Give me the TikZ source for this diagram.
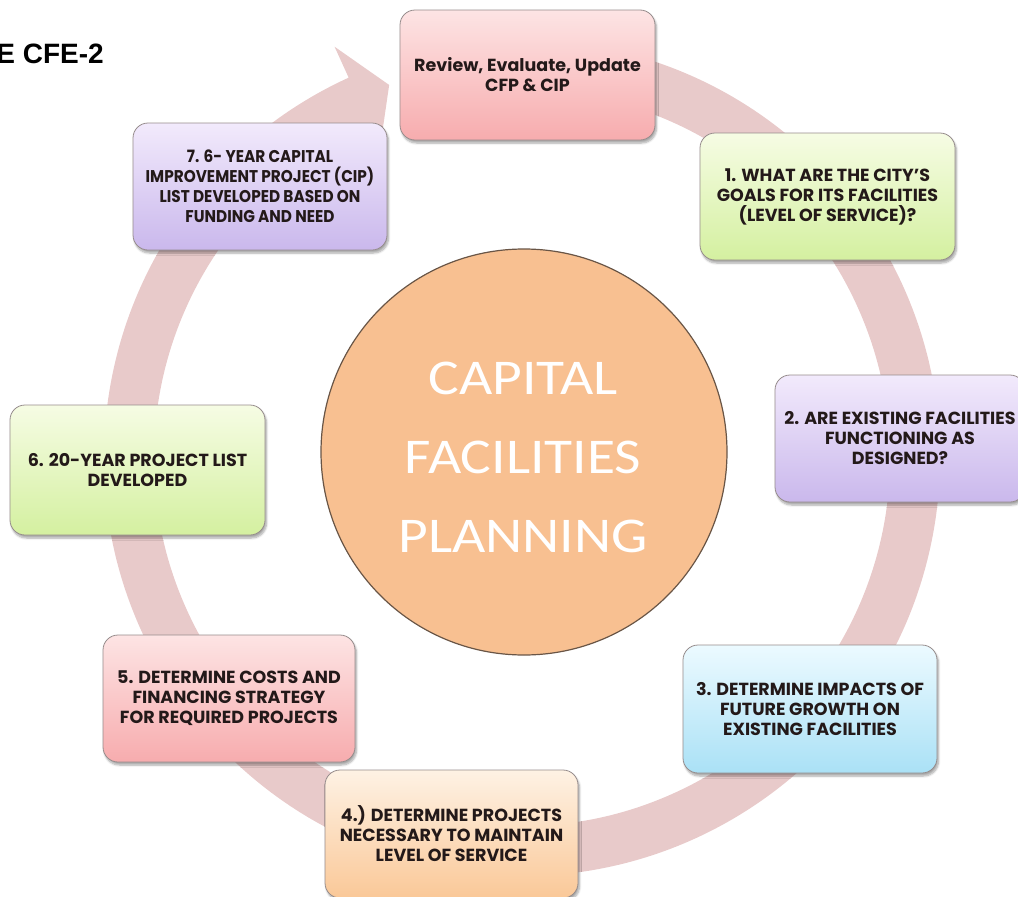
\documentclass[tikz,border=0pt]{standalone}
\usepackage{fontspec}
\setmainfont{Liberation Sans}
\newfontfamily\boxfont{Poppins}
\newfontfamily\boxfontnarrow{Poppins}[FakeStretch=0.9]
\newfontfamily\hubfont{Carlito}[FakeStretch=1.15]
\usetikzlibrary{shadows.blur}

\definecolor{ringpink}{RGB}{232,202,202}
\definecolor{boxedge}{RGB}{150,140,140}
\definecolor{txtdark}{RGB}{35,25,25}
\definecolor{hubfill}{RGB}{248,192,145}
\definecolor{hubedge}{RGB}{105,85,70}
\definecolor{pinkT}{RGB}{253,228,228}\definecolor{pinkB}{RGB}{247,172,174}
\definecolor{lavT}{RGB}{242,234,252}\definecolor{lavB}{RGB}{202,184,236}
\definecolor{grnT}{RGB}{246,252,228}\definecolor{grnB}{RGB}{212,240,160}
\definecolor{bluT}{RGB}{236,250,255}\definecolor{bluB}{RGB}{170,225,246}
\definecolor{pchT}{RGB}{254,242,228}\definecolor{pchB}{RGB}{250,200,152}

\begin{document}
\begin{tikzpicture}[x=1pt,y=-1pt,
  stepbox/.style={rounded corners=15pt, minimum width=254pt, minimum height=128pt,
    draw=boxedge, line width=0.8pt, align=center, text=txtdark,
    font=\boxfont\bfseries\fontsize{17.5}{20}\selectfont, shading=axis,
    blur shadow={shadow xshift=1.5pt, shadow yshift=-3pt, shadow blur steps=6, shadow opacity=35}},
  pinkbox/.style={stepbox, top color=pinkT, bottom color=pinkB},
  lavbox/.style={stepbox, top color=lavT, bottom color=lavB},
  grnbox/.style={stepbox, top color=grnT, bottom color=grnB},
  blubox/.style={stepbox, top color=bluT, bottom color=bluB},
  pchbox/.style={stepbox, top color=pchT, bottom color=pchB}]
\useasboundingbox (0,0) rectangle (1018,897);
\clip (0,0) rectangle (1018,897);

% figure label, cut at the left margin
\node[anchor=base east, inner sep=0pt, font=\bfseries\fontsize{28}{28}\selectfont] (title) at (104,63) {E CFE-2};

% circular arrow running clockwise behind the steps
\begin{scope}[shift={(522,458)}, y=1pt]
  \fill[ringpink] (78:418pt) arc[start angle=78, end angle=-245.5, radius=418pt]
    -- (114.5:452pt) -- (109.6:396pt) -- (114.5:342pt) -- (114.5:368pt)
    arc[start angle=114.5, end angle=438, radius=368pt] -- cycle;
\end{scope}

% hub
\node[circle, minimum size=406pt, inner sep=0pt, fill=hubfill, draw=hubedge, line width=1.2pt] (hub) at (524,452) {};
\node[text=white, align=center, font=\hubfont\fontsize{50}{79}\selectfont] (hubtext) at (523,457)
  {CAPITAL\\FACILITIES\\PLANNING};

% steps of the cycle
\node[pinkbox, minimum width=255pt, minimum height=130pt] (review) at (527.5,75)
  {Review, Evaluate, Update\\CFP \& CIP};
\node[grnbox, minimum width=255pt, minimum height=127pt] (s1) at (827.5,196.5)
  {1. WHAT ARE THE CITY’S\\GOALS FOR ITS FACILITIES\\(LEVEL OF SERVICE)?};
\node[lavbox, minimum width=250pt, minimum height=127pt] (s2) at (900,438.5)
  {2. ARE EXISTING FACILITIES\\FUNCTIONING AS\\DESIGNED?};
\node[blubox] (s3) at (810,709)
  {3. DETERMINE IMPACTS OF\\FUTURE GROWTH ON\\EXISTING FACILITIES};
\node[pchbox, minimum width=253pt] (s4) at (451.5,834)
  {4.) DETERMINE PROJECTS\\NECESSARY TO MAINTAIN\\LEVEL OF SERVICE};
\node[pinkbox, minimum width=252pt, minimum height=127pt] (s5) at (229,698.5)
  {5. DETERMINE COSTS AND\\FINANCING STRATEGY\\FOR REQUIRED PROJECTS};
\node[grnbox, minimum width=255pt, minimum height=130pt] (s6) at (137.5,470)
  {6. 20-YEAR PROJECT LIST\\DEVELOPED};
\node[lavbox, minimum height=127pt, font=\boxfontnarrow\bfseries\fontsize{17}{20}\selectfont] (s7) at (260,186.5)
  {7. 6- YEAR CAPITAL\\IMPROVEMENT PROJECT (CIP)\\LIST DEVELOPED BASED ON\\FUNDING AND NEED};
\end{tikzpicture}
\end{document}
